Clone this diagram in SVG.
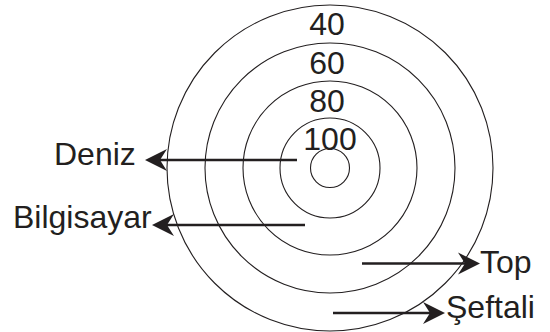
<svg xmlns="http://www.w3.org/2000/svg" width="550" height="332" viewBox="0 0 550 332">
<style>
.ring{fill:none;stroke:#231f20;stroke-width:1.1}
.lbl{font-family:"Liberation Sans",Arial,sans-serif;font-size:32px;fill:#231f20}
.num{font-family:"Liberation Sans",Arial,sans-serif;font-size:32px;fill:#231f20;text-anchor:middle}
.arr{stroke:#231f20;stroke-width:2.6;fill:none}
</style>
<defs>
<marker id="ah" markerUnits="userSpaceOnUse" markerWidth="30" markerHeight="26" viewBox="-20 -13 30 26" refX="0" refY="0" orient="auto">
<path d="M5,0 L-17,-11 L-10,0 L-17,11 Z" fill="#231f20"/>
</marker>
</defs>
<rect width="550" height="332" fill="#fff"/>
<g id="target">
<circle class="ring" cx="330" cy="168" r="163"/>
<circle class="ring" cx="330" cy="168" r="125"/>
<circle class="ring" cx="330" cy="168" r="87"/>
<circle class="ring" cx="330" cy="168" r="50"/>
<circle class="ring" cx="330" cy="168" r="19.5"/>
</g>
<g id="numbers">
<text class="num" x="327" y="34.5">40</text>
<text class="num" x="327" y="74">60</text>
<text class="num" x="327" y="111.5">80</text>
<text class="num" x="330" y="150">100</text>
</g>
<g id="connectors">
<line class="arr" x1="297" y1="160" x2="150" y2="160" marker-end="url(#ah)"/>
<line class="arr" x1="305" y1="225" x2="157" y2="225" marker-end="url(#ah)"/>
<line class="arr" x1="362" y1="263.5" x2="475" y2="263.5" marker-end="url(#ah)"/>
<line class="arr" x1="333" y1="313" x2="440" y2="313" marker-end="url(#ah)"/>
</g>
<g id="deniz"><text class="lbl" x="54" y="165">Deniz</text></g>
<g id="bilgisayar"><text class="lbl" x="13" y="228">Bilgisayar</text></g>
<g id="top"><text class="lbl" x="480" y="273">Top</text></g>
<g id="seftali"><text class="lbl" x="446" y="318">Şeftali</text></g>
</svg>
